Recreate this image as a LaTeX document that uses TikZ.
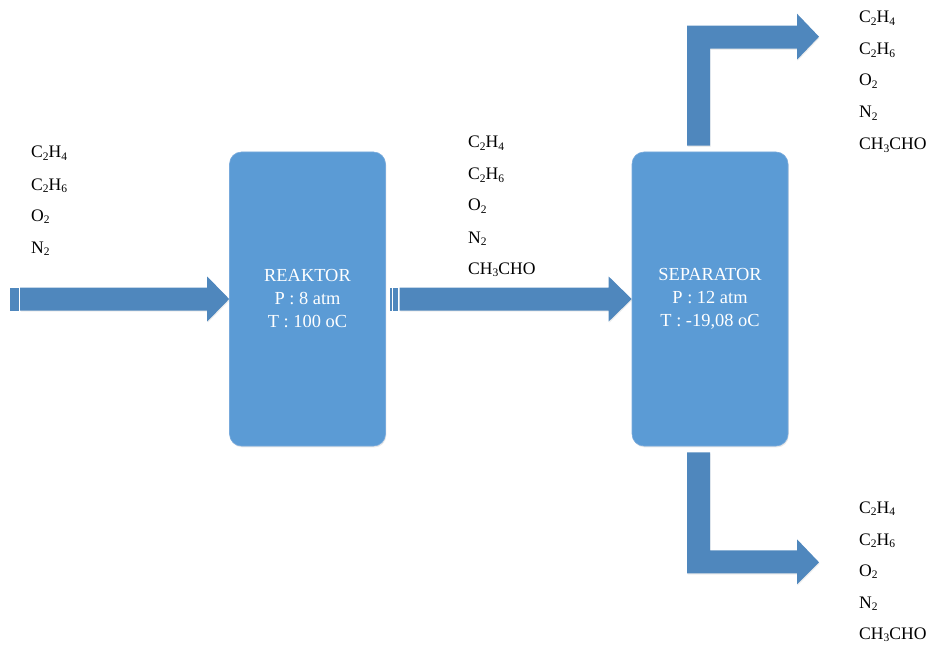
\documentclass[tikz,border=0pt]{standalone}
\usepackage{fontspec}
\setmainfont{Liberation Serif}
\usetikzlibrary{calc,shadows}
\definecolor{boxblue}{RGB}{91,155,213}
\definecolor{boxedge}{RGB}{120,170,220}
\definecolor{arrowblue}{RGB}{79,135,189}
\newcommand{\chemsub}[1]{\raisebox{-0.35ex}{\fontsize{11.5}{12}\selectfont #1}}
\begin{document}
\begin{tikzpicture}[x=1pt,y=-1pt,
  unitbox/.style={rectangle, rounded corners=12pt, fill=boxblue, draw=boxedge, line width=0.6pt,
    minimum width=156pt, minimum height=294pt, text=white, align=center,
    font=\fontsize{18.4}{23}\selectfont,
    drop shadow={opacity=0.18, shadow xshift=0.8pt, shadow yshift=-1.4pt}},
  species/.style={anchor=base west, inner sep=0pt, font=\fontsize{17.6}{23}\selectfont},
  fatarrow/.style={fill=arrowblue, draw=none,
    drop shadow={opacity=0.15, shadow xshift=0.6pt, shadow yshift=-1.2pt}},
  stripe/.style={fill=arrowblue, draw=none}
]
\useasboundingbox (0,0) rectangle (931,647);

% unit boxes
\node[unitbox] (reaktor) at (307.5,299) {REAKTOR\\P : 8 atm\\T : 100 oC};
\node[unitbox] (separator) at (710,299) {SEPARATOR\\P : 12 atm\\T : -19,08 oC};

% feed arrow (tip at reaktor.west)
\begin{scope}[shift={(reaktor.west)}]
  \fill[stripe] (-219,-11.5) rectangle (-216.7,11.5);
  \fill[stripe] (-215.8,-11.5) rectangle (-210.3,11.5);
  \path[fatarrow] (-209,-11.5) -- (-22,-11.5) -- (-22,-22.5) -- (0,0) -- (-22,22.5) -- (-22,11.5) -- (-209,11.5) -- cycle;
\end{scope}

% reactor -> separator arrow
\begin{scope}[shift={(separator.west)}]
  \fill[stripe] (-242,-11.5) rectangle (-239.7,11.5);
  \fill[stripe] (-238.8,-11.5) rectangle (-233.3,11.5);
  \path[fatarrow] (-232,-11.5) -- (-23,-11.5) -- (-23,-22.5) -- (0,0) -- (-23,22.5) -- (-23,11.5) -- (-232,11.5) -- cycle;
\end{scope}

% top outlet bent arrow
\begin{scope}[shift={(separator.north)}]
  \path[fatarrow] (-23,-6) -- (-23,-126) -- (87,-126) -- (87,-138) -- (109,-115) -- (87,-92) -- (87,-103) -- (0,-103) -- (0,-6) -- cycle;
\end{scope}

% bottom outlet bent arrow
\begin{scope}[shift={(separator.south)}]
  \path[fatarrow] (-23,6) -- (0,6) -- (0,104) -- (87,104) -- (87,93) -- (109,116) -- (87,138) -- (87,127) -- (-23,127) -- cycle;
\end{scope}

% feed composition
\node[species] (f1) at (31,158) {C\chemsub{2}H\chemsub{4}};
\node[species] (f2) at (31,190) {C\chemsub{2}H\chemsub{6}};
\node[species] (f3) at (31,221) {O\chemsub{2}};
\node[species] (f4) at (31,253) {N\chemsub{2}};

% reactor outlet composition
\node[species] (r1) at (468,148) {C\chemsub{2}H\chemsub{4}};
\node[species] (r2) at (468,180) {C\chemsub{2}H\chemsub{6}};
\node[species] (r3) at (468,211) {O\chemsub{2}};
\node[species] (r4) at (468,243) {N\chemsub{2}};
\node[species] (r5) at (468,274) {CH\chemsub{3}CHO};

% top product composition
\node[species] (t1) at (859,23) {C\chemsub{2}H\chemsub{4}};
\node[species] (t2) at (859,55) {C\chemsub{2}H\chemsub{6}};
\node[species] (t3) at (859,86) {O\chemsub{2}};
\node[species] (t4) at (859,118) {N\chemsub{2}};
\node[species] (t5) at (859,150) {CH\chemsub{3}CHO};

% bottom product composition
\node[species] (b1) at (859,513) {C\chemsub{2}H\chemsub{4}};
\node[species] (b2) at (859,545) {C\chemsub{2}H\chemsub{6}};
\node[species] (b3) at (859,576) {O\chemsub{2}};
\node[species] (b4) at (859,608) {N\chemsub{2}};
\node[species] (b5) at (859,639) {CH\chemsub{3}CHO};
\end{tikzpicture}
\end{document}
